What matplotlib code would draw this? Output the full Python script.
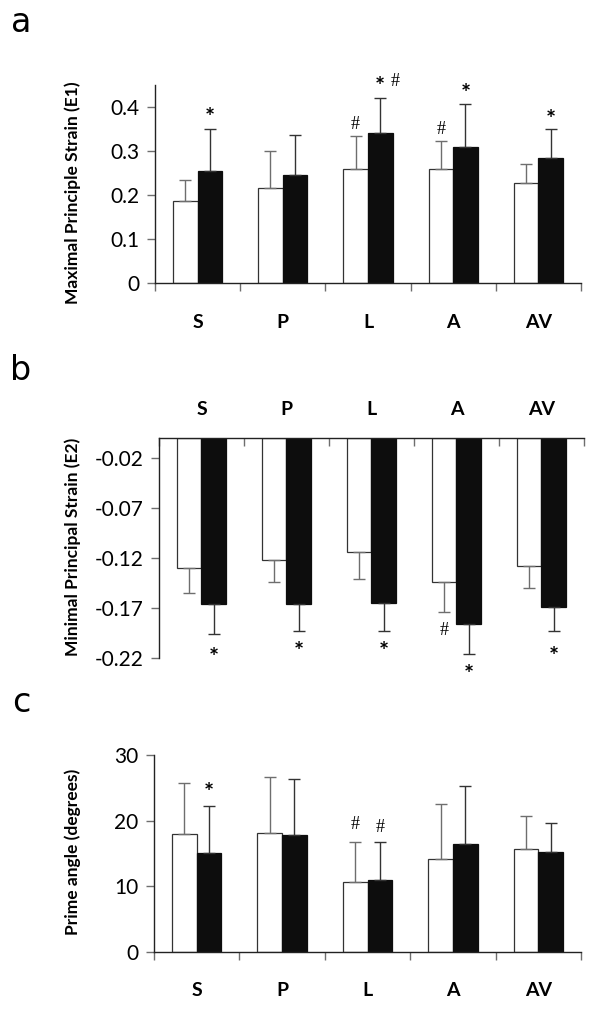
import matplotlib.pyplot as plt
import numpy as np

plt.rcParams['font.family'] = ['Lato', 'DejaVu Sans']

regions = ['S', 'P', 'L', 'A', 'AV']

# a: maximal principle strain (E1)
e1_white = [0.186, 0.217, 0.258, 0.258, 0.227]
e1_white_err = [0.049, 0.082, 0.077, 0.065, 0.043]
e1_black = [0.254, 0.245, 0.340, 0.309, 0.285]
e1_black_err = [0.096, 0.092, 0.081, 0.098, 0.065]
e1_ticks = [0, 0.1, 0.2, 0.3, 0.4]
e1_ticklabels = ['0', '0.1', '0.2', '0.3', '0.4']

# b: minimal principal strain (E2)
e2_white = [-0.1296, -0.1223, -0.1137, -0.1443, -0.1276]
e2_white_err = [0.0256, 0.0220, 0.0276, 0.0299, 0.0219]
e2_black = [-0.1658, -0.1658, -0.1649, -0.1858, -0.1688]
e2_black_err = [0.0302, 0.0269, 0.0278, 0.0299, 0.0239]
e2_ticks = [-0.02, -0.07, -0.12, -0.17, -0.22]
e2_ticklabels = ['-0.02', '-0.07', '-0.12', '-0.17', '-0.22']

# c: prime angle
ang_white = [17.95, 18.1, 10.7, 14.1, 15.7]
ang_white_err = [7.85, 8.5, 6.0, 8.5, 5.0]
ang_black = [15.05, 17.8, 10.9, 16.4, 15.2]
ang_black_err = [7.25, 8.5, 5.8, 8.9, 4.5]
ang_ticks = [0, 10, 20, 30]
ang_ticklabels = ['0', '10', '20', '30']

# significance marks: (region index, bar 0=white 1=black, y, symbol)
marks_a = [(0, 1, 0.373, '*'), (2, 0, 0.360, '#'), (2, 1, 0.445, '*'),
           (2.17, 1, 0.457, '#'), (3, 0, 0.348, '#'), (3, 1, 0.428, '*'),
           (4, 1, 0.370, '*')]
marks_b = [(0, 1, -0.220, '*'), (1, 1, -0.214, '*'), (2, 1, -0.214, '*'),
           (3, 0, -0.192, '#'), (3, 1, -0.237, '*'), (4, 1, -0.219, '*')]
marks_c = [(0, 1, 24.2, '*'), (2, 0, 19.4, '#'), (2, 1, 18.9, '#')]

x = np.arange(len(regions))
w = 0.289
grey = '#6e6e6e'

fig = plt.figure(figsize=(6, 10.14), dpi=100)
ax_a = fig.add_axes([0.2583, 0.7209, 0.71, 0.1953])
ax_b = fig.add_axes([0.265, 0.3508, 0.7083, 0.2176])
ax_c = fig.add_axes([0.2567, 0.0614, 0.7117, 0.194])


def draw(ax, white, werr, black, berr, down=False):
    zeros = np.zeros(len(white))
    if down:
        ew, eb = [werr, zeros], [berr, zeros]
    else:
        ew, eb = [zeros, werr], [zeros, berr]
    ax.bar(x - w / 2, white, w, color='white', edgecolor='#333333', linewidth=0.9,
           yerr=ew, error_kw=dict(ecolor=grey, elinewidth=1.0, capsize=4, capthick=1.0))
    ax.bar(x + w / 2, black, w, color='#0d0d0d', edgecolor='#0d0d0d', linewidth=0.9,
           yerr=eb, error_kw=dict(ecolor='#333333', elinewidth=1.0, capsize=4, capthick=1.0))
    ax.set_xlim(-0.5, len(regions) - 0.5)
    ax.set_xticks(np.arange(len(regions) + 1) - 0.5)
    ax.set_xticklabels([])
    ax.set_xticks(x, minor=True)
    ax.set_xticklabels(regions, minor=True, fontsize=14, fontweight='bold')
    ax.tick_params(axis='x', which='major', length=6, color=grey, width=1)
    ax.tick_params(axis='y', which='major', length=6, color=grey, width=1, labelsize=15, pad=5)
    ax.spines['right'].set_visible(False)
    for s in ax.spines.values():
        s.set_linewidth(1.0)
        s.set_color('#222222')


def annotate(ax, marks):
    for i, b, y, s in marks:
        xx = i - w / 2 if b == 0 else i + w / 2
        if s == '#':
            ax.text(xx, y, s, ha='center', va='center', fontsize=13,
                    family='Liberation Serif', clip_on=False)
        else:
            ax.text(xx, y, s, ha='center', va='center', fontsize=17,
                    fontweight='bold', clip_on=False)


# panel a
draw(ax_a, e1_white, e1_white_err, e1_black, e1_black_err)
ax_a.spines['top'].set_visible(False)
ax_a.set_ylim(0, 0.45)
ax_a.set_yticks(e1_ticks)
ax_a.set_yticklabels(e1_ticklabels)
ax_a.tick_params(axis='x', which='minor', length=0, pad=22)
annotate(ax_a, marks_a)

# panel b
draw(ax_b, e2_white, e2_white_err, e2_black, e2_black_err, down=True)
ax_b.spines['bottom'].set_visible(False)
ax_b.set_ylim(-0.22, 0)
ax_b.set_yticks(e2_ticks)
ax_b.set_yticklabels(e2_ticklabels)
ax_b.xaxis.tick_top()
ax_b.tick_params(axis='x', which='major', direction='in')
ax_b.tick_params(axis='x', which='minor', length=0, pad=14)
annotate(ax_b, marks_b)

# panel c
draw(ax_c, ang_white, ang_white_err, ang_black, ang_black_err)
ax_c.spines['top'].set_visible(False)
ax_c.set_ylim(0, 30)
ax_c.set_yticks(ang_ticks)
ax_c.set_yticklabels(ang_ticklabels)
ax_c.tick_params(axis='x', which='minor', length=0, pad=22)
annotate(ax_c, marks_c)

# axis titles and panel letters
fig.text(0.1217, 1 - 193 / 1014, 'Maximal Principle Strain (E1)', rotation=90,
         ha='center', va='center', fontsize=12.5, fontweight='bold')
fig.text(0.1217, 1 - 547 / 1014, 'Minimal Principal Strain (E2)', rotation=90,
         ha='center', va='center', fontsize=12.5, fontweight='bold')
fig.text(0.1217, 1 - 852 / 1014, 'Prime angle (degrees)', rotation=90,
         ha='center', va='center', fontsize=12.5, fontweight='bold')
for lab, yy in [('a', 22), ('b', 370), ('c', 702)]:
    fig.text(0.035, 1 - yy / 1014, lab, ha='center', va='center', fontsize=24,
             family=['Liberation Sans Narrow', 'DejaVu Sans'])

fig.savefig('out.png', dpi=100)
